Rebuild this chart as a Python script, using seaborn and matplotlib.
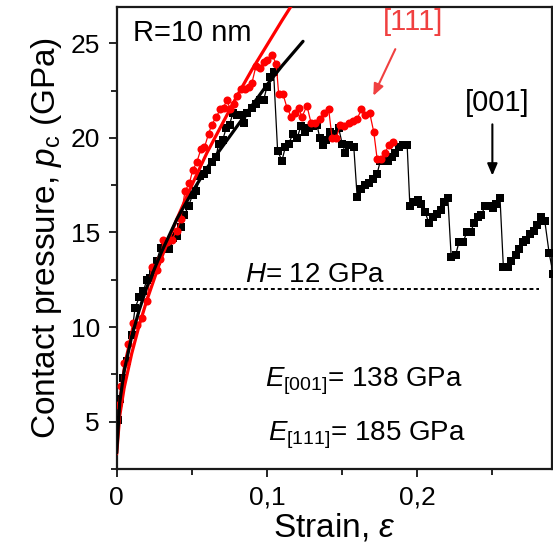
import numpy as np
import pandas as pd
import seaborn as sns
import matplotlib.pyplot as plt
from matplotlib.ticker import MultipleLocator

# [001] data (black squares)
strain_001 = [0.0010, 0.0025, 0.0044, 0.0070, 0.0100, 0.0122, 0.0151, 0.0178, 0.0200, 0.0222,
              0.0244, 0.0266, 0.0293, 0.0322, 0.0351, 0.0378, 0.0404, 0.0426, 0.0449, 0.0478,
              0.0506, 0.0529, 0.0555, 0.0582, 0.0604, 0.0633, 0.0662, 0.0678, 0.0706, 0.0728,
              0.0751, 0.0773, 0.0800, 0.0827, 0.0849, 0.0866, 0.0900, 0.0929, 0.0956, 0.0978,
              0.1000, 0.1022, 0.1044, 0.1071, 0.1100, 0.1122, 0.1144, 0.1173, 0.1200, 0.1226,
              0.1251, 0.1278, 0.1306, 0.1333, 0.1351, 0.1373, 0.1395, 0.1422, 0.1449, 0.1478,
              0.1500, 0.1522, 0.1544, 0.1578, 0.1600, 0.1626, 0.1655, 0.1682, 0.1706, 0.1733,
              0.1755, 0.1782, 0.1804, 0.1829, 0.1855, 0.1878, 0.1906, 0.1933, 0.1951, 0.1978,
              0.2004, 0.2026, 0.2051, 0.2078, 0.2104, 0.2129, 0.2155, 0.2178, 0.2204, 0.2226,
              0.2255, 0.2278, 0.2306, 0.2329, 0.2355, 0.2378, 0.2404, 0.2426, 0.2451, 0.2478,
              0.2504, 0.2526, 0.2551, 0.2573, 0.2604, 0.2626, 0.2655, 0.2678, 0.2704, 0.2726,
              0.2751, 0.2778, 0.2800, 0.2826, 0.2849, 0.2878, 0.2905]
pc_001 = [5.1, 6.2, 7.3, 8.2, 9.6, 11.0, 11.6, 11.9, 12.5, 12.6,
          13.0, 13.5, 14.2, 14.4, 14.1, 14.7, 14.8, 15.3, 15.9, 16.4,
          17.0, 17.2, 18.0, 18.1, 18.3, 18.7, 19.0, 19.7, 19.9, 20.5,
          20.7, 21.3, 21.2, 21.2, 20.8, 21.3, 21.6, 21.8, 22.0, 22.0,
          22.7, 23.2, 23.5, 19.3, 18.8, 19.5, 19.7, 20.2, 20.0, 20.6,
          20.3, 20.5, 20.6, 20.7, 20.0, 19.6, 19.9, 20.3, 20.2, 20.5,
          19.7, 19.2, 19.6, 19.5, 16.9, 17.3, 17.5, 17.6, 17.8, 18.1,
          18.8, 18.8, 18.8, 19.0, 19.2, 19.5, 19.6, 19.6, 16.4, 16.6,
          16.7, 16.5, 16.1, 15.5, 15.8, 16.0, 16.2, 16.6, 16.8, 13.7,
          13.8, 14.5, 14.5, 15.0, 15.0, 15.5, 15.8, 15.9, 16.4, 16.4,
          16.3, 16.5, 16.8, 13.2, 13.2, 13.5, 13.8, 14.1, 14.5, 14.6,
          14.9, 15.1, 15.4, 15.8, 15.6, 13.9, 12.8]

# [111] data (red circles)
strain_111 = [0.0012, 0.0028, 0.0049, 0.0078, 0.0107, 0.0138, 0.0166, 0.0200, 0.0233, 0.0266,
              0.0289, 0.0311, 0.0338, 0.0367, 0.0400, 0.0426, 0.0455, 0.0484, 0.0506, 0.0533,
              0.0560, 0.0584, 0.0611, 0.0633, 0.0662, 0.0689, 0.0711, 0.0733, 0.0756, 0.0778,
              0.0800, 0.0827, 0.0856, 0.0878, 0.0900, 0.0927, 0.0956, 0.0978, 0.1000, 0.1033,
              0.1062, 0.1078, 0.1107, 0.1133, 0.1162, 0.1188, 0.1211, 0.1233, 0.1266, 0.1293,
              0.1322, 0.1351, 0.1382, 0.1411, 0.1433, 0.1462, 0.1488, 0.1515, 0.1544, 0.1573,
              0.1600, 0.1628, 0.1655, 0.1684, 0.1711, 0.1733, 0.1762, 0.1784, 0.1811, 0.1838]
pc_111 = [5.9, 6.9, 8.1, 9.1, 10.2, 10.1, 10.5, 11.4, 13.2, 13.0,
          13.6, 14.6, 14.5, 14.6, 15.1, 15.7, 17.2, 17.6, 18.3, 18.7,
          19.4, 19.5, 20.2, 20.7, 21.1, 21.5, 21.6, 22.0, 21.5, 21.8,
          22.2, 22.6, 22.6, 22.7, 22.9, 23.8, 23.7, 24.0, 24.1, 24.4,
          23.9, 22.3, 22.3, 21.6, 21.1, 21.3, 21.6, 21.1, 21.7, 20.8,
          20.8, 21.0, 21.3, 21.5, 20.0, 20.0, 20.7, 20.6, 20.8, 20.9,
          21.0, 21.5, 21.2, 21.3, 20.3, 18.9, 18.9, 19.2, 19.6, 19.8]

# fitted curves
fit_strain_001 = [0.0, 0.002, 0.005, 0.01, 0.015, 0.02, 0.03, 0.04, 0.05, 0.06,
                  0.07, 0.08, 0.09, 0.10, 0.11, 0.124]
fit_pc_001 = [3.35, 6.0, 7.7, 9.5, 10.9, 12.1, 14.0, 15.7, 17.1, 18.4,
              19.5, 20.6, 21.7, 22.8, 23.8, 25.1]
fit_strain_111 = [0.0, 0.002, 0.005, 0.01, 0.015, 0.02, 0.03, 0.04, 0.05, 0.06,
                  0.07, 0.08, 0.09, 0.10, 0.11, 0.118]
fit_pc_111 = [3.3, 5.3, 6.8, 8.6, 10.1, 11.4, 13.7, 15.7, 17.5, 19.2,
              20.7, 22.2, 23.6, 24.9, 26.2, 27.2]

hardness = 12
hardness_span = [0.030, 0.281]
x_ticks = [0, 0.1, 0.2]
x_tick_labels = ['0', '0,1', '0,2']
y_ticks = [5, 10, 15, 20, 25]

sns.set_style("ticks")
plt.rcParams['font.family'] = ['Liberation Sans', 'DejaVu Sans']
plt.rcParams['mathtext.fontset'] = 'custom'
plt.rcParams['mathtext.rm'] = 'Liberation Sans'
plt.rcParams['mathtext.it'] = 'Liberation Sans:italic'
for key in ['text.color', 'axes.labelcolor', 'xtick.color', 'ytick.color', 'axes.edgecolor']:
    plt.rcParams[key] = 'black'

fig = plt.figure(figsize=(5.53, 5.47), dpi=100)
ax = fig.add_axes([0.211, 0.1426, 0.7867, 0.8441])

red = '#ff0000'
df001 = pd.DataFrame({'strain': strain_001, 'pc': pc_001})
df111 = pd.DataFrame({'strain': strain_111, 'pc': pc_111})

sns.lineplot(data=df001, x='strain', y='pc', ax=ax, sort=False, color='black', lw=0.9,
             marker='s', markersize=5.2, markeredgewidth=0, zorder=3)
sns.lineplot(data=df111, x='strain', y='pc', ax=ax, sort=False, color=red, lw=0.9,
             marker='o', markersize=5.8, markeredgewidth=0, zorder=4)
sns.lineplot(x=fit_strain_111, y=fit_pc_111, ax=ax, sort=False, color=red, lw=2.3, zorder=5)
sns.lineplot(x=fit_strain_001, y=fit_pc_001, ax=ax, sort=False, color='black', lw=2.3, zorder=5)

ax.plot(hardness_span, [hardness, hardness], color='black', lw=1.4, ls=(0, (2.0, 1.5)))

ax.set_xlim(0, 0.2895)
ax.set_ylim(2.5, 26.9)
ax.set_xticks(x_ticks, labels=x_tick_labels)
ax.set_yticks(y_ticks)
ax.xaxis.set_minor_locator(MultipleLocator(0.05))
ax.yaxis.set_minor_locator(MultipleLocator(2.5))
ax.tick_params(which='major', direction='out', length=6, width=1.2, labelsize=19, pad=6)
ax.tick_params(which='minor', direction='out', length=4, width=1.2)
for s in ax.spines.values():
    s.set_linewidth(1.6)
    s.set_color('#1a1a1a')

ax.set_xlabel(r'Strain, $\varepsilon$', fontsize=24, labelpad=1)
ax.set_ylabel(r'Contact pressure, $\mathit{p}_{\mathrm{c}}$ (GPa)', fontsize=24, labelpad=5)

ax.text(0.0375, 0.944, 'R=10 nm', transform=ax.transAxes, fontsize=21, ha='left', va='center')
ax.text(0.1975, 26.1, '[111]', color='#f04040', fontsize=21, ha='center', va='center')
ax.text(0.2529, 21.84, '[001]', color='black', fontsize=21, ha='center', va='center')
ax.annotate('', xy=(0.1700, 22.09), xytext=(0.1862, 24.82),
            arrowprops=dict(arrowstyle='-|>,head_length=0.7,head_width=0.3', color='#f04040', lw=1.5))
ax.annotate('', xy=(0.25, 17.86), xytext=(0.25, 20.86),
            arrowprops=dict(arrowstyle='-|>,head_length=0.7,head_width=0.3', color='black', lw=1.5))
ax.text(0.0855, 12.38, r'$\mathit{H}$= 12 GPa', fontsize=20, ha='left', va='baseline')
ax.text(0.0989, 6.85, r'$\mathit{E}_{\mathrm{[001]}}$= 138 GPa', fontsize=20, ha='left', va='baseline')
ax.text(0.1010, 4.03, r'$\mathit{E}_{\mathrm{[111]}}$= 185 GPa', fontsize=20, ha='left', va='baseline')

fig.savefig('out.png', dpi=100)
